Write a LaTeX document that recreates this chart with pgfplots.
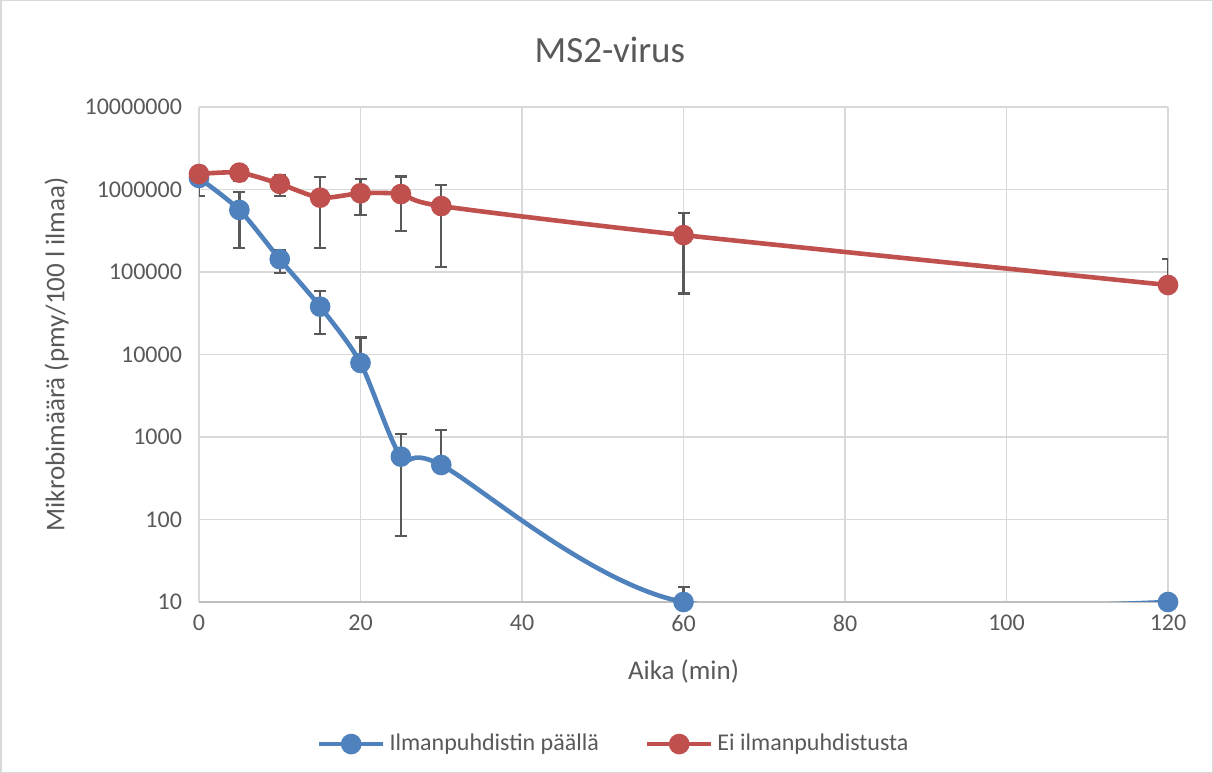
\documentclass[border=0pt]{standalone}
\usepackage{fontspec}
\setmainfont{Carlito}
\usepackage{pgfplots}
\pgfplotsset{compat=1.18}
\usepackage{pgfplotstable}

\definecolor{txtgray}{HTML}{595959}
\definecolor{gridgray}{HTML}{D9D9D9}
\definecolor{axgray}{HTML}{BFBFBF}
\definecolor{ablue}{HTML}{4F81BD}
\definecolor{ared}{HTML}{C0504D}
\definecolor{errgray}{HTML}{595959}

% x = aika (min), y = mikrobimaara, ep/em = virhepalkit
\pgfplotstableread{
x   y       ep      em
0   1380000 0       0
5   565000  375000  368000
10  143000  42000   45000
15  38000   21000   20400
20  7900    8100    0
25  578     509     515
30  458     758     0
60  10      5.3     0
120 10      0       0
}\paalla

\pgfplotstableread{
x   y       ep      em
0   1540000 400000  700000
5   1600000 260000  320000
10  1170000 330000  340000
15  796000  610000  600000
20  900000  430000  410000
25  880000  550000  566000
30  630000  500000  516000
60  280000  235000  225000
120 69500   74500   0
}\eipuhd

\begin{document}
\begin{tikzpicture}
\draw[gridgray, line width=0.75bp] (0.375bp,0.375bp) rectangle (606.125bp,386.125bp);
\begin{axis}[
    at={(99.5bp,85.5bp)}, anchor=south west,
    scale only axis, width=484.5bp, height=247.5bp,
    ymode=log,
    xmin=0, xmax=120, ymin=10, ymax=1e7,
    xtick={0,20,...,120},
    ytick={10,100,1000,10000,100000,1000000,10000000},
    yticklabels={10,100,1000,10000,100000,1000000,10000000},
    minor ytick={},
    /pgf/number format/assume math mode=true,
    major tick length=0pt, minor tick length=0pt,
    tick style={draw=none},
    grid=major,
    major grid style={gridgray, line width=0.75bp},
    axis x line*=bottom, axis y line*=left,
    x axis line style={axgray, line width=0.75bp, -},
    y axis line style={draw=none},
    tick label style={txtgray, font=\fontsize{12bp}{14bp}\selectfont},
    yticklabel style={xshift=-5bp},
    xticklabel style={yshift=-3bp},
    xlabel={Aika (min)},
    ylabel={Mikrobimäärä (pmy/100 l ilmaa)},
    every axis x label/.style={at={(axis description cs:0.5,-0.141)}, anchor=center,
        txtgray, font=\fontsize{13.5bp}{16bp}\selectfont},
    every axis y label/.style={at={(axis description cs:-0.147,0.5)}, rotate=90, anchor=center,
        txtgray, font=\fontsize{13.5bp}{16bp}\selectfont},
    title={MS2-virus},
    every axis title/.style={at={(axis description cs:0.424,1.115)}, anchor=center,
        txtgray, font=\fontsize{18.5bp}{22bp}\selectfont},
    legend columns=2,
    legend style={at={(axis description cs:0.429,-0.287)}, anchor=center, draw=none,
        font=\fontsize{12bp}{14bp}\selectfont, text=txtgray,
        /tikz/every even column/.append style={column sep=21bp}},
    legend image code/.code={
        \draw[mark repeat=2, mark phase=2, #1] plot coordinates {(0bp,0bp) (16bp,0bp) (32bp,0bp)};},
    error bars/y dir=both,
    error bars/y explicit,
    error bars/error bar style={errgray, line width=1.2bp, solid},
    error bars/error mark options={rotate=90, errgray, mark size=3bp, line width=1.2bp},
]
\addplot[ablue, line width=2.3bp, smooth, tension=0.45, mark=*, mark size=4bp,
    mark options={fill=ablue, draw=ablue}]
    table[x=x, y=y, y error plus=ep, y error minus=em] {\paalla};
\addlegendentry{Ilmanpuhdistin päällä}

\addplot[ared, line width=2.3bp, smooth, tension=0.45, mark=*, mark size=4bp,
    mark options={fill=ared, draw=ared}]
    table[x=x, y=y, y error plus=ep, y error minus=em] {\eipuhd};
\addlegendentry{Ei ilmanpuhdistusta}
\end{axis}
\end{tikzpicture}
\end{document}
